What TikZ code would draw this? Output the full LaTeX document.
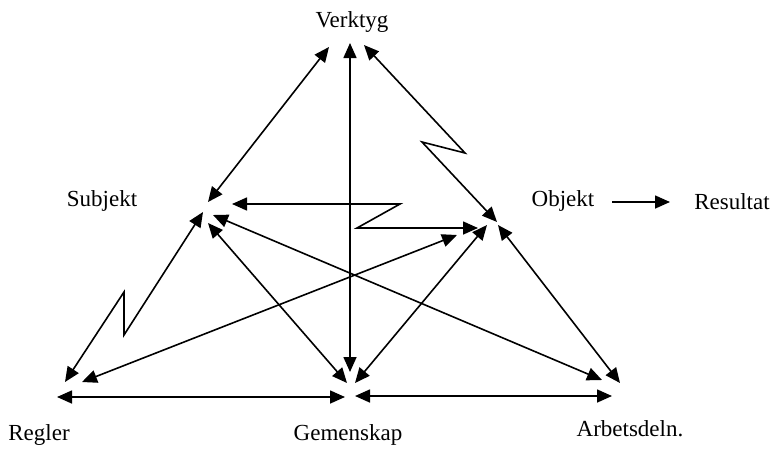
\documentclass[tikz,border=0pt]{standalone}
\usepackage{fontspec}
\setmainfont{Liberation Serif}
\usetikzlibrary{arrows.meta}
\begin{document}
\begin{tikzpicture}[x=1pt,y=-1pt,
  lbl/.style={inner sep=0pt,anchor=base,font=\fontsize{23}{27}\selectfont},
  link/.style={line width=1.6pt,{Triangle[length=15pt,width=13pt]}-{Triangle[length=15pt,width=13pt]}},
  onelink/.style={line width=1.6pt,-{Triangle[length=15pt,width=13pt]}}]
\useasboundingbox (0,0) rectangle (774,448);
% labels
\node[lbl] (verktyg) at (352,27) {Verktyg};
\node[lbl] (subjekt) at (102,206) {Subjekt};
\node[lbl] (objekt) at (563,206) {Objekt};
\node[lbl] (resultat) at (732,209) {Resultat};
\node[lbl] (regler) at (39,440) {Regler};
\node[lbl] (gemenskap) at (348,440) {Gemenskap};
\node[lbl] (arbetsdeln) at (630,436) {Arbetsdeln.};
% end points
\coordinate (vS) at (329,47);
\coordinate (vG) at (350,43);
\coordinate (vO) at (364,45);
\coordinate (sV) at (208,202);
\coordinate (sO) at (232,204);
\coordinate (sR) at (203,212);
\coordinate (sA) at (213,215);
\coordinate (sG) at (208,223);
\coordinate (oV) at (497,222);
\coordinate (oS) at (478,228);
\coordinate (oR) at (457,235);
\coordinate (oG) at (487,225);
\coordinate (oA) at (498,225);
\coordinate (oRes) at (612,202);
\coordinate (resO) at (670,202);
\coordinate (rS) at (65,382);
\coordinate (rO) at (82,382);
\coordinate (rG) at (57,397);
\coordinate (gV) at (350,372);
\coordinate (gS) at (347,383);
\coordinate (gO) at (355,383);
\coordinate (gR) at (345,397);
\coordinate (gA) at (355,396);
\coordinate (aS) at (602,380);
\coordinate (aO) at (620,383);
\coordinate (aG) at (612,396);
% connectors
\draw[link] (vS) -- (sV);
\draw[link] (vG) -- (gV);
\draw[link] (vO) -- (465,153) -- (422,142) -- (oV);
\draw[link] (sO) -- (400,204) -- (357,228) -- (oS);
\draw[link] (sR) -- (124,335) -- (124,292) -- (rS);
\draw[link] (oR) -- (rO);
\draw[link] (sA) -- (aS);
\draw[link] (sG) -- (gS);
\draw[link] (oG) -- (gO);
\draw[link] (oA) -- (aO);
\draw[link] (rG) -- (gR);
\draw[link] (gA) -- (aG);
\draw[onelink] (oRes) -- (resO);
\end{tikzpicture}
\end{document}
